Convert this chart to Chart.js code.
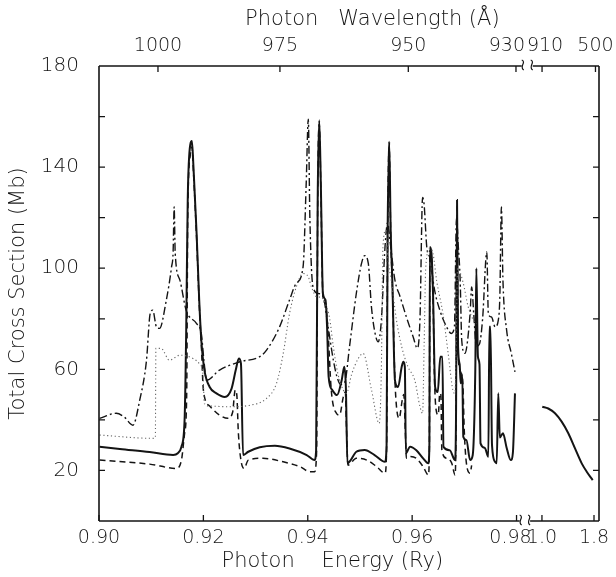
<!DOCTYPE html>
<html>
<head>
<meta charset="utf-8">
<script src="https://cdn.jsdelivr.net/npm/chart.js@4"></script>
<style>
  html, body { margin: 0; padding: 0; background: #fff; }
  #wrap { width: 616px; height: 577px; }
</style>
</head>
<body>
<div id="wrap"><canvas id="chart" width="616" height="577"></canvas></div>
<script>
// photon energy (Ry) and total cross section (Mb)
const solidE = [0.9001, 0.9040, 0.9097, 0.9142, 0.9151, 0.9158, 0.9164, 0.9167, 0.9170, 0.9175, 0.9178, 0.9181, 0.9187, 0.9192, 0.9196, 0.9202, 0.9212, 0.9225, 0.9241, 0.9254, 0.9262, 0.9268, 0.9272, 0.9276, 0.9286, 0.9308, 0.9337, 0.9365, 0.9398, 0.9413, 0.9416, 0.9419, 0.9422, 0.9425, 0.9429, 0.9434, 0.9437, 0.9440, 0.9447, 0.9456, 0.9465, 0.9470, 0.9473, 0.9476, 0.9482, 0.9493, 0.9509, 0.9528, 0.9548, 0.9551, 0.9553, 0.9555, 0.9556, 0.9559, 0.9562, 0.9567, 0.9573, 0.9580, 0.9583, 0.9586, 0.9588, 0.9596, 0.9608, 0.9621, 0.9631, 0.9633, 0.9634, 0.9637, 0.9640, 0.9644, 0.9649, 0.9654, 0.9658, 0.9660, 0.9672, 0.9682, 0.9684, 0.9686, 0.9688, 0.9691, 0.9693, 0.9696, 0.9698, 0.9704, 0.9711, 0.9716, 0.9721, 0.9723, 0.9726, 0.9729, 0.9731, 0.9739, 0.9746, 0.9748, 0.9750, 0.9753, 0.9759, 0.9762, 0.9765, 0.9768, 0.9774, 0.9781, 0.9789, 0.9793, 0.9797];
const solidMb = [29.4, 28.5, 27.3, 26.1, 26.8, 29.4, 40, 74, 127, 149, 150.3, 140, 113.8, 87.4, 71.5, 59.7, 53, 50.5, 49.1, 52.4, 59.7, 64.3, 62.3, 26.1, 27.4, 29.2, 29.8, 28.7, 26.1, 24.1, 28, 127, 158.5, 133.5, 90, 87.4, 76.8, 57, 51.8, 49.8, 55.7, 61, 53, 22.8, 24, 27.4, 28.1, 26.1, 23.4, 30, 113.7, 140, 150, 113.7, 95.3, 55.7, 53, 61, 63, 61, 26.8, 29.4, 28, 24.8, 22.8, 30, 108.4, 106, 90, 53, 51, 65, 65, 29.4, 28, 24.1, 40, 127, 69, 62, 54.5, 58, 33.3, 32, 24.1, 26, 60, 100, 65, 62, 30.7, 29, 25.4, 76.8, 76.8, 30, 23.4, 22.8, 50.5, 33, 34.7, 29, 24.1, 27, 50.5];

const dashedE = [0.9001, 0.9097, 0.9148, 0.9158, 0.9164, 0.9168, 0.9170, 0.9175, 0.9178, 0.9181, 0.9187, 0.9192, 0.9196, 0.9200, 0.9212, 0.9231, 0.9247, 0.9256, 0.9261, 0.9264, 0.9267, 0.9272, 0.9278, 0.9286, 0.9314, 0.9353, 0.9385, 0.9404, 0.9413, 0.9417, 0.9419, 0.9422, 0.9425, 0.9429, 0.9434, 0.9439, 0.9445, 0.9455, 0.9461, 0.9468, 0.9472, 0.9474, 0.9477, 0.9493, 0.9513, 0.9532, 0.9548, 0.9551, 0.9553, 0.9556, 0.9559, 0.9562, 0.9567, 0.9570, 0.9575, 0.9581, 0.9584, 0.9587, 0.9589, 0.9596, 0.9608, 0.9621, 0.9631, 0.9633, 0.9634, 0.9637, 0.9640, 0.9643, 0.9646, 0.9650, 0.9653, 0.9655, 0.9657, 0.9666, 0.9676, 0.9682, 0.9684, 0.9686, 0.9688, 0.9691, 0.9694, 0.9697, 0.9700, 0.9704, 0.9711, 0.9714];
const dashedMb = [24.1, 22.5, 20.8, 24.1, 34.7, 50, 120, 145, 148, 138, 112, 86, 70, 51.8, 45.5, 41.9, 40.6, 43, 51.8, 50, 35, 24, 20.8, 24.1, 24.8, 23.4, 21.5, 19.5, 19.5, 28, 125, 157, 132, 89, 86, 74.2, 51.8, 42.6, 41.9, 49, 51, 38, 22.1, 24.8, 24.1, 21.5, 18.9, 28, 112, 148, 112, 94, 56, 45.2, 40.6, 47.8, 50, 35, 24.8, 25.5, 24.8, 21.5, 18.2, 28, 107, 105, 88, 55, 43.9, 42, 50.5, 50, 28, 24.8, 22.8, 18.2, 35, 125, 68, 60, 58.4, 55, 35, 22.8, 18.9, 22];

const dottedE = [0.9001, 0.9103, 0.9108, 0.9109, 0.9119, 0.9135, 0.9155, 0.9180, 0.9193, 0.9199, 0.9202, 0.9212, 0.9250, 0.9289, 0.9321, 0.9340, 0.9353, 0.9365, 0.9378, 0.9391, 0.9401, 0.9407, 0.9417, 0.9426, 0.9436, 0.9442, 0.9449, 0.9458, 0.9468, 0.9474, 0.9484, 0.9496, 0.9506, 0.9522, 0.9537, 0.9541, 0.9544, 0.9550, 0.9553, 0.9560, 0.9570, 0.9580, 0.9592, 0.9605, 0.9615, 0.9620, 0.9623, 0.9626, 0.9634, 0.9640, 0.9647, 0.9659, 0.9669, 0.9678, 0.9682, 0.9685, 0.9687, 0.9698, 0.9707, 0.9716, 0.9723];
const dottedMb = [34, 32.7, 33, 68.3, 68.3, 63.6, 65.6, 64.3, 62, 58.4, 46.5, 45.5, 45.2, 45.8, 48.5, 54.4, 66.3, 82, 92.6, 97.9, 96.6, 92.6, 88.7, 88.5, 84.7, 80, 68.9, 58, 51.8, 50.5, 58, 64, 66.3, 52, 38.6, 60, 108.4, 115, 105, 95.3, 79.4, 68.9, 61, 55.7, 45.2, 42.6, 70, 100, 108, 105.8, 95, 82, 66.3, 51.8, 50.5, 80, 100, 94, 85, 80, 78];

const dashDotE = [0.9001, 0.9033, 0.9049, 0.9065, 0.9078, 0.9091, 0.9098, 0.9103, 0.9110, 0.9116, 0.9129, 0.9139, 0.9142, 0.9144, 0.9146, 0.9155, 0.9167, 0.9187, 0.9196, 0.9201, 0.9206, 0.9231, 0.9270, 0.9308, 0.9321, 0.9346, 0.9365, 0.9378, 0.9391, 0.9397, 0.9401, 0.9404, 0.9410, 0.9420, 0.9429, 0.9439, 0.9449, 0.9456, 0.9463, 0.9471, 0.9480, 0.9493, 0.9503, 0.9509, 0.9516, 0.9522, 0.9529, 0.9535, 0.9541, 0.9548, 0.9553, 0.9558, 0.9567, 0.9577, 0.9589, 0.9602, 0.9610, 0.9615, 0.9620, 0.9623, 0.9628, 0.9634, 0.9643, 0.9653, 0.9666, 0.9675, 0.9681, 0.9685, 0.9688, 0.9692, 0.9695, 0.9701, 0.9711, 0.9714, 0.9718, 0.9723, 0.9729, 0.9735, 0.9743, 0.9746, 0.9752, 0.9759, 0.9765, 0.9768, 0.9771, 0.9774, 0.9781, 0.9790, 0.9797];
const dashDotMb = [40.6, 42.6, 41, 37.9, 47.8, 63.6, 82, 83.4, 76.8, 76.2, 87.4, 100.5, 106.4, 124.2, 106, 95.3, 83.4, 78.1, 74.2, 63.6, 55.7, 59.7, 63, 65, 67.6, 76.8, 87.4, 94, 100.5, 133.5, 159, 120, 92.6, 90, 89, 76.8, 63.6, 57, 54, 55, 69, 90, 101.9, 105, 101.9, 84.7, 74.2, 70.9, 79.4, 108.4, 118, 110, 95.3, 88.7, 80.7, 72.8, 68.3, 80, 128, 125, 108.4, 104, 91.3, 83.4, 76.8, 74.2, 77, 120, 110, 95.3, 71.5, 66.3, 82, 92.6, 82, 69, 70, 80, 106.4, 82, 80.7, 76.8, 79.4, 88.7, 124.2, 95, 75.5, 66.3, 59];

// high energy part beyond the axis break (solid curve)
const tailE = [1.005, 1.097, 1.2, 1.303, 1.405, 1.508, 1.611, 1.688, 1.78];
const tailMb = [45.2, 44.5, 42.6, 39.3, 34.7, 28.7, 22.8, 19.5, 16.2];

const energyTicks = [0.90, 0.92, 0.94, 0.96, 0.98, 1.0, 1.8];
const energyLabels = ['0.90', '0.92', '0.94', '0.96', '0.98  ', '1.0', '1.8'];
const waveTicks = [1000, 975, 950, 930, 910, 500];
const waveLabels = ['1000', '975', '950', '930   ', ' 910', '500'];
const yLabelled = [20, 60, 100, 140, 180];

const RY_ANGSTROM = 911.3;
const xMax = 0.9958;

// broken axis: 0.90-0.98 linear, then 1.0-1.8 squeezed to the right
function ux(e) {
    if (e <= 0.981) return e;
    return 0.98487 + (e - 1.0) * 0.012466;
}

function pts(es, vs) {
    return es.map((e, i) => ({ x: ux(e), y: vs[i] }));
}

const ink = '#141414';
const font = "'DejaVu Sans', sans-serif";
const fw = 200;

const framePlugin = {
    id: 'frame',
    afterDraw(chart) {
        const ctx = chart.ctx;
        const a = chart.chartArea;
        const x = chart.scales.x;
        const y = chart.scales.y;
        const tl = 6;
        ctx.save();
        ctx.strokeStyle = ink;
        ctx.lineWidth = 1.6;
        ctx.lineCap = 'butt';
        // left and right
        ctx.beginPath();
        ctx.moveTo(a.left, a.top); ctx.lineTo(a.left, a.bottom);
        ctx.moveTo(a.right, a.top); ctx.lineTo(a.right, a.bottom);
        ctx.stroke();
        // bottom with break
        const bb1 = x.getPixelForValue(0.9806), bb2 = x.getPixelForValue(0.9826);
        ctx.beginPath();
        ctx.moveTo(a.left, a.bottom); ctx.lineTo(bb1, a.bottom);
        ctx.moveTo(bb2, a.bottom); ctx.lineTo(a.right, a.bottom);
        ctx.stroke();
        // top with break
        const tb1 = x.getPixelForValue(0.9810), tb2 = x.getPixelForValue(0.9831);
        ctx.beginPath();
        ctx.moveTo(a.left, a.top); ctx.lineTo(tb1, a.top);
        ctx.moveTo(tb2, a.top); ctx.lineTo(a.right, a.top);
        ctx.stroke();
        // squiggle break marks
        ctx.lineWidth = 1.2;
        const squiggle = (cx, cy) => {
            ctx.beginPath();
            ctx.moveTo(cx - 1, cy - 6);
            ctx.bezierCurveTo(cx + 4, cy - 4, cx - 4, cy + 1, cx + 1, cy + 4);
            ctx.stroke();
        };
        squiggle(bb1 + 1, a.bottom);
        squiggle(bb2 - 1, a.bottom);
        squiggle(tb1 + 1, a.top);
        squiggle(tb2 - 1, a.top);
        // inward tick marks
        ctx.lineWidth = 1.3;
        ctx.beginPath();
        y.ticks.forEach(t => {
            if (t.value <= 0 || t.value >= 180) return;
            const py = y.getPixelForValue(t.value);
            ctx.moveTo(a.left, py); ctx.lineTo(a.left + tl, py);
            ctx.moveTo(a.right, py); ctx.lineTo(a.right - tl, py);
        });
        chart.scales.x.ticks.forEach(t => {
            const px = x.getPixelForValue(t.value);
            ctx.moveTo(px, a.bottom); ctx.lineTo(px, a.bottom - tl);
        });
        chart.scales.x2.ticks.forEach(t => {
            const px = x.getPixelForValue(t.value);
            ctx.moveTo(px, a.top); ctx.lineTo(px, a.top + tl);
        });
        ctx.stroke();
        ctx.restore();
    }
};

const lineBase = {
    pointRadius: 0,
    fill: false,
    cubicInterpolationMode: 'monotone',
    borderColor: ink
};

new Chart(document.getElementById('chart'), {
    type: 'line',
    data: {
        datasets: [
            Object.assign({}, lineBase, { label: 'dotted', data: pts(dottedE, dottedMb), borderWidth: 1.1, borderDash: [1.2, 2.6], borderColor: '#666' }),
            Object.assign({}, lineBase, { label: 'dash-dot', data: pts(dashDotE, dashDotMb), borderWidth: 1.4, borderDash: [8, 3, 2, 3] }),
            Object.assign({}, lineBase, { label: 'dashed', data: pts(dashedE, dashedMb), borderWidth: 1.5, borderDash: [6, 4] }),
            Object.assign({}, lineBase, { label: 'solid', data: pts(solidE, solidMb), borderWidth: 2 }),
            Object.assign({}, lineBase, { label: 'solid high', data: pts(tailE, tailMb), borderWidth: 2 })
        ]
    },
    options: {
        responsive: false,
        animation: false,
        events: [],
        layout: { padding: { left: 0, right: 17, top: 0, bottom: 0 } },
        plugins: { legend: { display: false }, tooltip: { enabled: false } },
        scales: {
            x: {
                type: 'linear',
                position: 'bottom',
                min: 0.90,
                max: xMax,
                grid: { display: false },
                border: { display: false },
                afterBuildTicks: s => { s.ticks = energyTicks.map(e => ({ value: ux(e) })); },
                afterFit: s => { s.height = 56; },
                ticks: {
                    autoSkip: false,
                    maxRotation: 0,
                    padding: 0,
                    color: ink,
                    font: { family: font, size: 19, weight: fw, lineHeight: 1 },
                    callback: (v, i) => energyLabels[i]
                },
                title: {
                    display: true,
                    text: 'Photon    Energy (Ry)     ',
                    color: ink,
                    font: { family: font, size: 21, weight: fw },
                    padding: { top: 0, bottom: 3 }
                }
            },
            x2: {
                type: 'linear',
                axis: 'x',
                position: 'top',
                min: 0.90,
                max: xMax,
                grid: { display: false },
                border: { display: false },
                afterBuildTicks: s => { s.ticks = waveTicks.map(w => ({ value: ux(RY_ANGSTROM / w) })); },
                afterFit: s => { s.height = 66; },
                ticks: {
                    autoSkip: false,
                    maxRotation: 0,
                    padding: 2,
                    color: ink,
                    font: { family: font, size: 19, weight: fw, lineHeight: 1 },
                    callback: (v, i) => waveLabels[i]
                },
                title: {
                    display: true,
                    text: '       Photon   Wavelength (Å)',
                    color: ink,
                    font: { family: font, size: 21, weight: fw },
                    padding: { top: 7, bottom: 0 }
                }
            },
            y: {
                min: 0,
                max: 180,
                grid: { display: false },
                border: { display: false },
                afterFit: s => { s.width = 99; },
                ticks: {
                    stepSize: 20,
                    padding: 12,
                    color: ink,
                    font: { family: font, size: 20, weight: fw },
                    callback: v => (yLabelled.includes(v) ? String(v) : '')
                },
                title: {
                    display: true,
                    text: 'Total Cross Section (Mb)',
                    color: ink,
                    font: { family: font, size: 21, weight: fw },
                    padding: { top: 6, bottom: 0 }
                }
            }
        }
    },
    plugins: [framePlugin]
});
</script>
</body>
</html>
